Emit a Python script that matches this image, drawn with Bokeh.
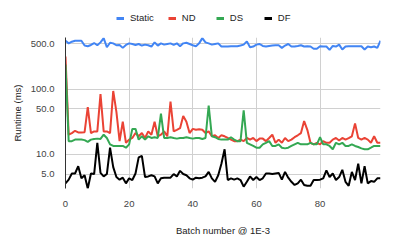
from bokeh.plotting import figure
from bokeh.layouts import column
from bokeh.models import Range1d, FixedTicker, PrintfTickFormatter, Legend, LegendItem
from bokeh.embed import file_html
from bokeh.resources import INLINE

batch = list(range(100))

static = [558, 508, 539, 558, 558, 558, 470, 459, 480, 514,
          475, 526, 611, 443, 520, 508, 475, 480, 433, 480,
          508, 497, 480, 497, 470, 486, 475, 454, 526, 470,
          508, 486, 497, 508, 480, 508, 459, 508, 520, 497,
          475, 459, 508, 611, 526, 508, 486, 497, 508, 454,
          454, 454, 459, 459, 459, 470, 486, 545, 443, 454,
          486, 497, 464, 454, 464, 470, 475, 475, 433, 470,
          497, 454, 454, 464, 475, 454, 459, 454, 419, 419,
          459, 454, 454, 404, 464, 454, 486, 409, 454, 459,
          459, 459, 459, 459, 409, 454, 443, 454, 433, 558]

nd = [320, 20.1, 21.3, 23.1, 21.8, 21.8, 22.0, 53.3, 21.3, 22.6,
      22.6, 84.2, 22.6, 22.6, 21.3, 94.4, 44.9, 16.0, 31.8, 15.1,
      16.9, 17.9, 21.3, 19.0, 21.3, 17.9, 22.6, 20.1, 31.8, 19.0,
      20.1, 22.6, 19.0, 65.0, 22.6, 23.9, 25.3, 39.1, 31.8, 21.3,
      24.7, 23.9, 24.4, 23.9, 21.3, 22.6, 19.0, 19.7, 17.9, 19.7,
      19.0, 17.9, 16.9, 16.0, 16.0, 16.9, 16.0, 17.9, 16.9, 17.9,
      16.0, 17.5, 17.5, 16.0, 17.9, 20.1, 15.1, 16.9, 15.1, 17.9,
      16.0, 16.9, 18.4, 19.7, 21.3, 32.5, 23.9, 15.1, 14.3, 15.1,
      14.3, 16.0, 15.1, 15.1, 16.9, 17.9, 16.4, 17.9, 16.9, 17.8,
      19.0, 30.0, 17.9, 16.9, 17.9, 16.9, 15.1, 19.0, 15.1, 15.1]

ds = [240, 16.0, 16.0, 16.9, 16.9, 16.9, 16.6, 15.6, 16.9, 17.3,
      17.5, 17.3, 20.1, 17.9, 14.3, 13.5, 13.5, 13.5, 13.5, 12.7,
      14.3, 24.7, 24.7, 16.9, 19.0, 16.9, 19.0, 17.9, 18.4, 17.9,
      42.4, 17.9, 17.9, 18.4, 17.9, 17.5, 17.9, 17.9, 18.4, 17.9,
      17.5, 17.9, 17.9, 17.3, 17.9, 56.4, 19.0, 18.4, 17.3, 16.9,
      16.9, 16.9, 18.4, 16.9, 16.0, 16.0, 47.5, 15.1, 14.3, 13.5,
      12.7, 12.7, 14.3, 15.1, 16.0, 13.5, 13.5, 14.3, 12.7, 12.4,
      12.7, 13.5, 14.3, 15.1, 14.3, 14.3, 14.3, 15.1, 14.3, 14.3,
      18.4, 14.3, 14.3, 13.5, 12.0, 15.1, 14.3, 15.1, 13.5, 13.5,
      14.3, 13.5, 13.0, 12.4, 12.0, 12.0, 12.7, 13.5, 13.5, 13.5]

df = [3.6, 4.1, 5.1, 5.1, 6.6, 4.3, 4.8, 3.0, 5.1, 5.0,
      15.1, 5.2, 4.6, 5.0, 12.7, 6.4, 4.5, 4.1, 4.4, 3.6,
      4.3, 4.05, 5.1, 9.0, 9.5, 4.5, 4.6, 4.8, 4.6, 3.6,
      4.3, 4.4, 4.4, 4.4, 5.0, 4.6, 5.6, 5.0, 4.8, 4.3,
      4.1, 4.4, 4.3, 4.4, 4.6, 5.4, 4.3, 3.8, 4.8, 7.2,
      12.0, 4.05, 4.3, 4.1, 4.3, 4.05, 3.2, 3.8, 4.6, 4.05,
      4.5, 4.05, 4.3, 5.1, 5.1, 5.0, 5.1, 5.2, 4.1, 5.4,
      4.4, 3.8, 3.4, 3.6, 4.1, 3.4, 3.3, 3.3, 4.05, 4.05,
      4.1, 4.3, 5.7, 4.5, 5.1, 4.05, 4.5, 5.8, 3.8, 3.3,
      5.4, 4.05, 7.2, 3.6, 6.6, 3.6, 3.9, 3.8, 4.3, 4.3]

series_names = ["Static", "ND", "DS", "DF"]
series_colors = ["#4285F4", "#EA4335", "#34A853", "#000000"]

x_ticks = [0, 20, 40, 60, 80]
y_ticks = [5, 10, 50, 100, 500]

FONT = "Liberation Sans"
FS = "9.5px"
W = 375

# ---- main chart ----
p = figure(width=W, height=208, y_axis_type="log",
           x_range=Range1d(0, 99), y_range=Range1d(3.0, 625),
           output_backend="svg", toolbar_location=None,
           min_border_left=50, min_border_right=3,
           min_border_top=7, min_border_bottom=46)
p.outline_line_color = None

for ys, c in zip([static, nd, ds, df], series_colors):
    p.line(batch, ys, line_color=c, line_width=2)

p.xaxis.ticker = FixedTicker(ticks=x_ticks)
p.yaxis.ticker = FixedTicker(ticks=y_ticks)
p.xgrid.ticker = FixedTicker(ticks=x_ticks)
p.ygrid.ticker = FixedTicker(ticks=y_ticks)
p.yaxis.formatter = PrintfTickFormatter(format="%.1f")
p.grid.grid_line_color = "#d0d0d0"
p.grid.grid_line_width = 1

for ax in (p.xaxis[0], p.yaxis[0]):
    ax.major_tick_line_color = None
    ax.minor_tick_line_color = None
    ax.major_label_text_font = FONT
    ax.major_label_text_font_size = FS
    ax.major_label_text_color = "#444444"
    ax.axis_label_text_font = FONT
    ax.axis_label_text_font_size = FS
    ax.axis_label_text_font_style = "normal"
    ax.axis_label_text_color = "#222222"

p.xaxis.major_label_standoff = 6
p.yaxis.major_label_standoff = 5
p.xaxis.axis_line_color = None
p.yaxis.axis_line_color = "#333333"
p.yaxis.axis_line_width = 1
p.xaxis.axis_label = "Batch number @ 1E-3"
p.yaxis.axis_label = "Runtime (ms)"
p.xaxis.axis_label_standoff = 15
p.yaxis.axis_label_standoff = 5

# ---- legend strip above the chart (its frame is aligned with the chart's) ----
pl = figure(width=W, height=30, x_range=Range1d(0, 99), y_range=Range1d(0, 30),
            output_backend="svg", toolbar_location=None,
            x_axis_location=None, y_axis_location=None,
            min_border_left=50, min_border_right=3,
            min_border_top=0, min_border_bottom=0)
pl.outline_line_color = None
pl.grid.visible = False
items = []
for name, c in zip(series_names, series_colors):
    # proxy renderers placed outside the visible range; only their legend glyphs show
    r = pl.line([-50, -40], [-50, -50], line_color=c, line_width=3)
    items.append(LegendItem(label=name, renderers=[r]))

legend = Legend(items=items, orientation="horizontal", location=(51, 7),
                glyph_width=8, glyph_height=10, label_standoff=6, spacing=14,
                padding=0, margin=0, border_line_color=None,
                background_fill_alpha=0,
                label_text_font=FONT, label_text_font_size=FS,
                label_text_color="#222222")
pl.add_layout(legend)

layout = column(pl, p, spacing=0, margin=(0, 0, 0, 8))
open("out.html", "w").write(file_html(layout, INLINE))
